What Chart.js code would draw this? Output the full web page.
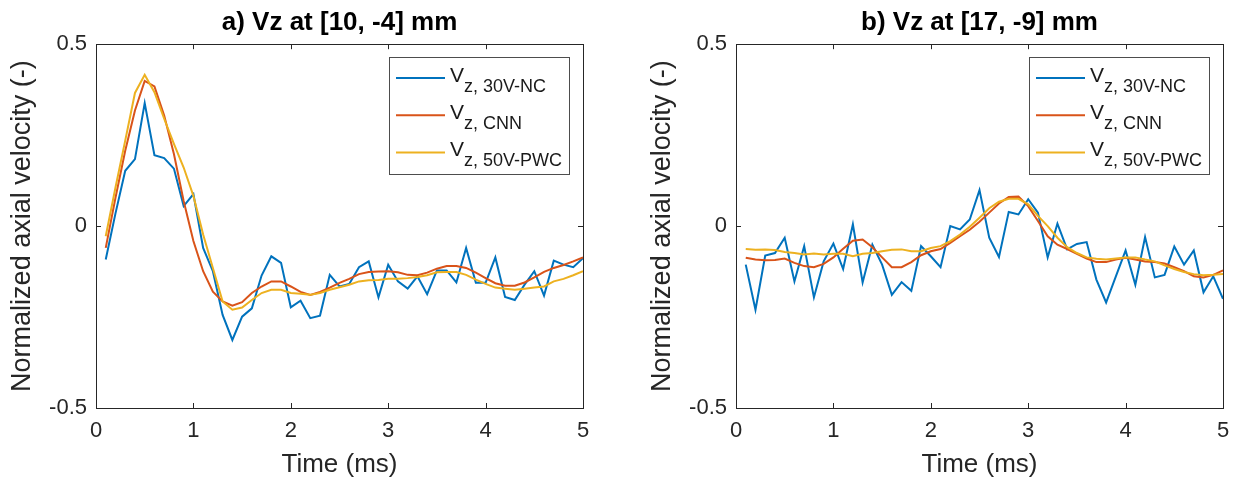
<!DOCTYPE html>
<html>
<head>
<meta charset="utf-8">
<script src="https://cdn.jsdelivr.net/npm/chart.js@4.4.0/dist/chart.umd.min.js"></script>
<style>
  html, body { margin: 0; padding: 0; background: #fff; }
  #wrap { position: relative; width: 1234px; height: 481px; overflow: hidden; }
  .panel { position: absolute; top: 0; width: 594px; height: 481px; }
  #panelA { left: 0; }
  #panelB { left: 640px; }
</style>
</head>
<body>
<div id="wrap">
  <div class="panel" id="panelA"><canvas id="chartA" width="594" height="481"></canvas></div>
  <div class="panel" id="panelB"><canvas id="chartB" width="594" height="481"></canvas></div>
</div>
<script>
// Sample times (ms)
const time = [0.1, 0.2, 0.3, 0.4, 0.5, 0.6, 0.7, 0.8, 0.9, 1.0,
              1.1, 1.2, 1.3, 1.4, 1.5, 1.6, 1.7, 1.8, 1.9, 2.0,
              2.1, 2.2, 2.3, 2.4, 2.5, 2.6, 2.7, 2.8, 2.9, 3.0,
              3.1, 3.2, 3.3, 3.4, 3.5, 3.6, 3.7, 3.8, 3.9, 4.0,
              4.1, 4.2, 4.3, 4.4, 4.5, 4.6, 4.7, 4.8, 4.9, 5.0];

const xTicks = [0, 1, 2, 3, 4, 5];
const yTicks = [-0.5, 0, 0.5];

const seriesSub = ['z, 30V-NC', 'z, CNN', 'z, 50V-PWC'];
const seriesColors = ['#0072BD', '#D95319', '#EDB120'];

// a) point [10, -4] mm
const ncA = [-0.092, 0.035, 0.152, 0.184, 0.338, 0.195, 0.187, 0.158, 0.055, 0.088,
             -0.060, -0.124, -0.244, -0.313, -0.249, -0.226, -0.136, -0.083, -0.101, -0.223,
             -0.205, -0.253, -0.246, -0.134, -0.166, -0.159, -0.113, -0.097, -0.196, -0.106,
             -0.152, -0.172, -0.138, -0.187, -0.122, -0.122, -0.155, -0.060, -0.156, -0.156,
             -0.086, -0.195, -0.203, -0.161, -0.124, -0.191, -0.095, -0.106, -0.113, -0.088];
const cnnA = [-0.060, 0.078, 0.207, 0.318, 0.399, 0.384, 0.304, 0.198, 0.069, -0.041,
              -0.124, -0.180, -0.207, -0.219, -0.209, -0.184, -0.166, -0.152, -0.152, -0.166,
              -0.181, -0.189, -0.181, -0.169, -0.156, -0.145, -0.132, -0.126, -0.125, -0.124,
              -0.127, -0.134, -0.135, -0.128, -0.117, -0.110, -0.110, -0.115, -0.128, -0.143,
              -0.157, -0.164, -0.164, -0.155, -0.141, -0.126, -0.115, -0.107, -0.097, -0.086];
const pwcA = [-0.028, 0.106, 0.235, 0.366, 0.416, 0.368, 0.295, 0.226, 0.161, 0.083,
              -0.023, -0.115, -0.207, -0.230, -0.224, -0.203, -0.184, -0.175, -0.175, -0.184,
              -0.186, -0.189, -0.184, -0.175, -0.168, -0.161, -0.152, -0.149, -0.148, -0.145,
              -0.145, -0.143, -0.140, -0.135, -0.127, -0.126, -0.126, -0.134, -0.147, -0.159,
              -0.169, -0.172, -0.175, -0.172, -0.169, -0.166, -0.152, -0.145, -0.135, -0.124];

// b) point [17, -9] mm
const ncB = [-0.106, -0.230, -0.081, -0.074, -0.032, -0.152, -0.055, -0.196, -0.097, -0.048,
             -0.118, 0.005, -0.155, -0.051, -0.106, -0.189, -0.154, -0.178, -0.055, -0.083,
             -0.113, 0.000, -0.009, 0.018, 0.099, -0.032, -0.085, 0.039, 0.032, 0.074,
             0.037, -0.086, 0.007, -0.064, -0.049, -0.044, -0.147, -0.210, -0.138, -0.067,
             -0.161, -0.030, -0.141, -0.134, -0.056, -0.106, -0.067, -0.182, -0.138, -0.200];
const cnnB = [-0.087, -0.092, -0.094, -0.093, -0.089, -0.101, -0.110, -0.113, -0.104, -0.086,
              -0.062, -0.040, -0.037, -0.058, -0.086, -0.113, -0.113, -0.099, -0.080, -0.069,
              -0.063, -0.046, -0.028, -0.010, 0.012, 0.037, 0.062, 0.080, 0.081, 0.055,
              0.014, -0.028, -0.051, -0.063, -0.076, -0.089, -0.099, -0.099, -0.092, -0.087,
              -0.092, -0.097, -0.099, -0.103, -0.113, -0.124, -0.138, -0.141, -0.134, -0.122];
const pwcB = [-0.063, -0.065, -0.064, -0.066, -0.071, -0.074, -0.078, -0.075, -0.078, -0.076,
              -0.076, -0.083, -0.076, -0.074, -0.069, -0.065, -0.064, -0.069, -0.069, -0.060,
              -0.055, -0.041, -0.023, -0.002, 0.023, 0.049, 0.067, 0.075, 0.075, 0.060,
              0.028, 0.000, -0.032, -0.058, -0.074, -0.086, -0.090, -0.092, -0.089, -0.086,
              -0.086, -0.092, -0.097, -0.108, -0.118, -0.126, -0.132, -0.135, -0.134, -0.132];

const fontFamily = "'Liberation Sans', Arial, Helvetica, sans-serif";
const axisColor = '#262626';
const tickLen = 5;

Chart.defaults.font.family = fontFamily;
Chart.defaults.color = axisColor;

// MATLAB-style box with inward ticks on all four sides
const axesBox = {
  id: 'axesBox',
  afterDatasetsDraw(chart) {
    const { ctx, chartArea: a, scales: { x, y } } = chart;
    ctx.save();
    ctx.strokeStyle = axisColor;
    ctx.lineWidth = 1;
    ctx.beginPath();
    x.ticks.forEach(t => {
      const px = Math.round(x.getPixelForValue(t.value)) + 0.5;
      ctx.moveTo(px, a.bottom); ctx.lineTo(px, a.bottom - tickLen);
      ctx.moveTo(px, a.top); ctx.lineTo(px, a.top + tickLen);
    });
    y.ticks.forEach(t => {
      const py = Math.round(y.getPixelForValue(t.value)) + 0.5;
      ctx.moveTo(a.left, py); ctx.lineTo(a.left + tickLen, py);
      ctx.moveTo(a.right, py); ctx.lineTo(a.right - tickLen, py);
    });
    ctx.stroke();
    ctx.strokeRect(Math.round(a.left) + 0.5, Math.round(a.top) + 0.5,
                   Math.round(a.right - a.left), Math.round(a.bottom - a.top));
    ctx.restore();
  }
};

// legend with subscripted labels, top right inside the axes
const subLegend = {
  id: 'subLegend',
  afterDraw(chart) {
    const { ctx, chartArea: a } = chart;
    const w = 180, h = 117;
    const left = Math.round(a.right - 14 - w), top = Math.round(a.top + 13);
    ctx.save();
    ctx.fillStyle = '#fff';
    ctx.fillRect(left, top, w, h);
    ctx.strokeStyle = '#4d4d4d';
    ctx.lineWidth = 1;
    ctx.strokeRect(left + 0.5, top + 0.5, w, h);
    chart.data.datasets.forEach((ds, i) => {
      const cy = top + 21 + i * 37.2;
      ctx.strokeStyle = ds.borderColor;
      ctx.lineWidth = 2;
      ctx.beginPath();
      ctx.moveTo(left + 7, cy);
      ctx.lineTo(left + 56, cy);
      ctx.stroke();
      ctx.fillStyle = '#1a1a1a';
      ctx.textAlign = 'left';
      ctx.textBaseline = 'alphabetic';
      ctx.font = '21px ' + fontFamily;
      ctx.fillText('V', left + 61, cy + 3.5);
      const vw = ctx.measureText('V').width;
      ctx.font = '18px ' + fontFamily;
      ctx.fillText(ds.sub, left + 61 + vw, cy + 13.5);
    });
    ctx.restore();
  }
};

function makeChart(canvasId, titleText, series) {
  const datasets = series.map((vals, i) => ({
    label: 'V' + seriesSub[i],
    sub: seriesSub[i],
    data: time.map((t, k) => ({ x: t, y: vals[k] })),
    borderColor: seriesColors[i],
    backgroundColor: seriesColors[i],
    borderWidth: 2,
    pointRadius: 0,
    tension: 0,
    order: series.length - i
  }));

  return new Chart(document.getElementById(canvasId), {
    type: 'line',
    data: { datasets },
    options: {
      responsive: false,
      animation: false,
      events: [],
      layout: { padding: { left: 0, right: 11, top: 0, bottom: 0 } },
      plugins: {
        legend: { display: false },
        tooltip: { enabled: false },
        title: {
          display: true,
          text: titleText,
          fullSize: false,
          color: '#000',
          font: { size: 26, weight: 'bold' },
          padding: { top: 7, bottom: 6 }
        }
      },
      scales: {
        x: {
          type: 'linear',
          min: 0,
          max: 5,
          afterBuildTicks: s => { s.ticks = xTicks.map(v => ({ value: v })); },
          afterFit: s => { s.height = 73; s.paddingLeft = 0; s.paddingRight = 0; },
          grid: { display: false, drawTicks: false },
          border: { display: false },
          ticks: { padding: 10, font: { size: 22 }, color: axisColor },
          title: {
            display: true,
            text: 'Time (ms)',
            color: axisColor,
            font: { size: 26 },
            padding: { top: 0, bottom: 1 }
          }
        },
        y: {
          min: -0.5,
          max: 0.5,
          afterBuildTicks: s => { s.ticks = yTicks.map(v => ({ value: v })); },
          afterFit: s => { s.width = 96; },
          grid: { display: false, drawTicks: false },
          border: { display: false },
          ticks: { padding: 9, font: { size: 22 }, color: axisColor },
          title: {
            display: true,
            text: 'Normalized axial velocity (-)',
            color: axisColor,
            font: { size: 27 },
            padding: { top: 6, bottom: 0 }
          }
        }
      }
    },
    plugins: [axesBox, subLegend]
  });
}

makeChart('chartA', 'a) Vz at [10, -4] mm', [ncA, cnnA, pwcA]);
makeChart('chartB', 'b) Vz at [17, -9] mm', [ncB, cnnB, pwcB]);
</script>
</body>
</html>
